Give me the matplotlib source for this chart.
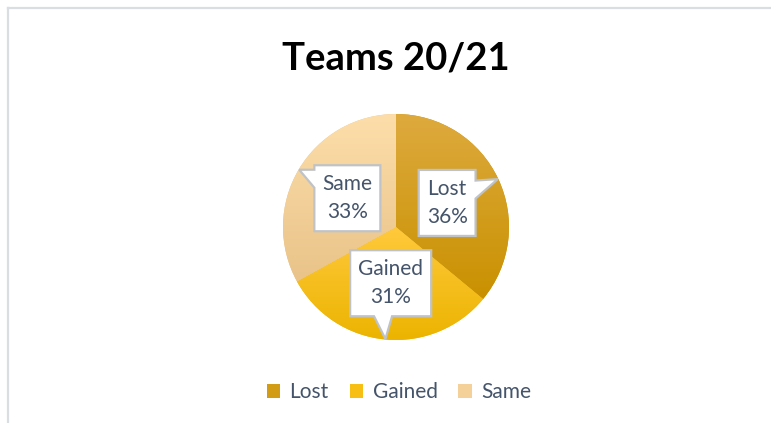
import numpy as np
import matplotlib
matplotlib.use("Agg")
import matplotlib.pyplot as plt
from matplotlib.patches import Polygon, Patch
from matplotlib.lines import Line2D
from matplotlib.colors import LinearSegmentedColormap, to_rgb

# ---- data ----
title = "Teams 20/21"
categories = ["Lost", "Gained", "Same"]
percentages = [36, 31, 33]

# ---- style ----
grad_top = ["#DEAA3E", "#FFC93C", "#FDDEAA"]
grad_bottom = ["#C99100", "#ECB400", "#E9C389"]
text_color = "#44546A"
box_edge = "#BFC3C7"
FONT = ["Lato", "DejaVu Sans"]
plt.rcParams["font.family"] = FONT

W, H = 771, 423
DPI = 100
fig = plt.figure(figsize=(W / DPI, H / DPI), dpi=DPI)
fig.patch.set_facecolor("white")

# border lines (chart area frame)
bc = "#DADDE1"
fig.add_artist(Line2D([7.5 / W, 7.5 / W], [0, 1 - 8.5 / H], transform=fig.transFigure, color=bc, lw=1.6))
fig.add_artist(Line2D([7.5 / W, 1], [1 - 8.5 / H, 1 - 8.5 / H], transform=fig.transFigure, color=bc, lw=1.6))

# title
fig.text(396 / W, 1 - 58 / H, title, ha="center", va="center", fontsize=27.5, fontweight="bold", color="black")

# pie axes: center (396,227), radius 113 px
cx, cy, R = 396, 227, 113
ax = fig.add_axes([(cx - R) / W, (H - cy - R) / H, 2 * R / W, 2 * R / H])
wedges, _ = ax.pie(percentages, startangle=90, counterclock=False, radius=1,
                   colors=grad_bottom, wedgeprops=dict(linewidth=0))
ax.set_xlim(-1, 1)
ax.set_ylim(-1, 1)
ax.set_aspect("equal", adjustable="box")
ax.axis("off")

# gradient fills clipped to wedges
for w, ct, cb in zip(wedges, grad_top, grad_bottom):
    t1, t2 = np.deg2rad(w.theta1), np.deg2rad(w.theta2)
    ang = np.linspace(t1, t2, 100)
    xs = np.concatenate([[0], np.cos(ang)])
    ys = np.concatenate([[0], np.sin(ang)])
    cmap = LinearSegmentedColormap.from_list("g", [to_rgb(cb), to_rgb(ct)])
    grad = np.linspace(0, 1, 256).reshape(-1, 1)
    im = ax.imshow(grad, cmap=cmap, origin="lower", aspect="auto",
                   extent=[xs.min(), xs.max(), ys.min(), ys.max()], zorder=2,
                   interpolation="bilinear")
    im.set_clip_path(w)
ax.set_xlim(-1, 1)
ax.set_ylim(-1, 1)

# callout labels
texts = []
for w, cat, p in zip(wedges, categories, percentages):
    mid = np.deg2rad((w.theta1 + w.theta2) / 2)
    tx, ty = 0.5 * np.cos(mid), 0.5 * np.sin(mid)
    t = ax.text(tx, ty, f"{cat}\n{p}%", ha="center", va="center", fontsize=15,
                color=text_color, linespacing=1.5, zorder=6, family=FONT)
    texts.append((t, mid))

fig.canvas.draw()
renderer = fig.canvas.get_renderer()
inv = ax.transData.inverted()
px = 1.0 / R  # data units per pixel
padx, pady = 8 * px, 9 * px
hw = 9 * px
for t, mid in texts:
    bb = t.get_window_extent(renderer).transformed(inv)
    x0, x1 = bb.x0 - padx, bb.x1 + padx
    y0, y1 = bb.y0 - pady, bb.y1 + pady
    xc, yc = (x0 + x1) / 2, (y0 + y1) / 2
    tip = np.array([np.cos(mid), np.sin(mid)]) * 0.995
    dx, dy = tip[0] - xc, tip[1] - yc
    hwid, hhei = (x1 - x0) / 2, (y1 - y0) / 2
    m = 2.5 * px
    if abs(dx) / hwid >= abs(dy) / hhei:
        yi = yc + dy * hwid / abs(dx)
        yi = min(max(yi, y0 + hw + m), y1 - hw - m)
        if dx > 0:
            verts = [(x0, y0), (x1, y0), (x1, yi - hw), tuple(tip), (x1, yi + hw), (x1, y1), (x0, y1)]
        else:
            verts = [(x0, y0), (x1, y0), (x1, y1), (x0, y1), (x0, yi + hw), tuple(tip), (x0, yi - hw)]
    else:
        xi = xc + dx * hhei / abs(dy) - 0.5 * hw
        xi = min(max(xi, x0 + hw + m), x1 - hw - m)
        if dy < 0:
            verts = [(x0, y0), (xi - hw, y0), tuple(tip), (xi + hw, y0), (x1, y0), (x1, y1), (x0, y1)]
        else:
            verts = [(x0, y0), (x1, y0), (x1, y1), (xi + hw, y1), tuple(tip), (xi - hw, y1), (x0, y1)]
    poly = Polygon(verts, closed=True, facecolor="white", edgecolor=box_edge, lw=1.6,
                   zorder=5, joinstyle="miter", clip_on=False)
    ax.add_patch(poly)

# legend
handles = [Patch(facecolor=c, edgecolor="none") for c in
           ["#D29C14", "#F7BE14", "#F4D199"]]
fig.legend(handles, categories, loc="center", bbox_to_anchor=(399 / W, 1 - 392 / H),
           ncol=3, frameon=False, fontsize=15, handlelength=0.65, handleheight=0.65,
           handletextpad=0.45, columnspacing=1.0, labelcolor=text_color)

fig.savefig("out.png", dpi=DPI, facecolor="white")
